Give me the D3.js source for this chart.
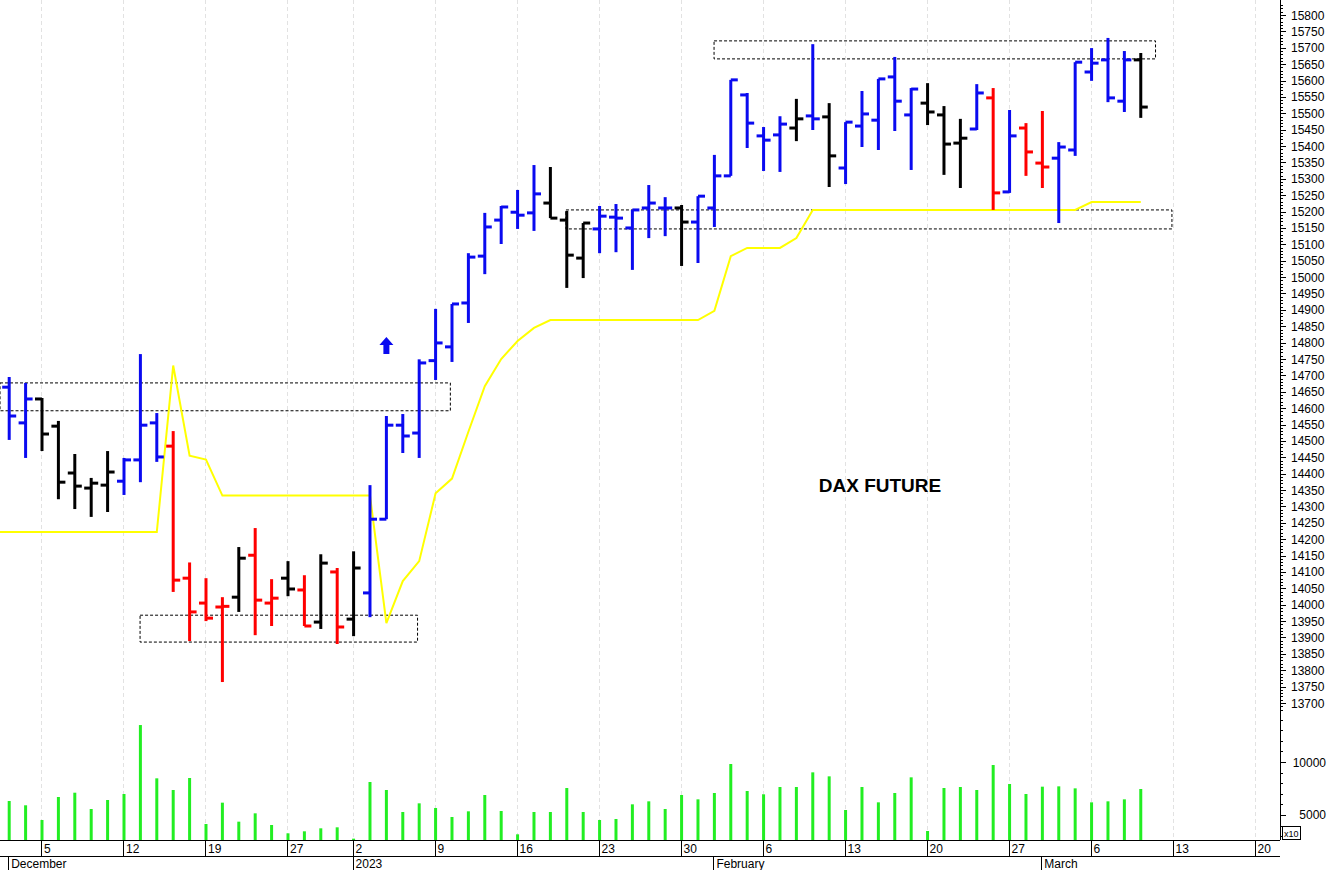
<!DOCTYPE html>
<html><head><meta charset="utf-8">
<script src="https://cdn.jsdelivr.net/npm/d3@7/dist/d3.min.js"></script>
<style>body{margin:0;background:#fff}svg{display:block}text{font-family:"Liberation Sans",Arial,sans-serif}</style>
</head><body><svg id="c" width="1328" height="870"></svg>
<script>
const dates=["Dec 1","Dec 2","Dec 5","Dec 6","Dec 7","Dec 8","Dec 9","Dec 12","Dec 13","Dec 14","Dec 15","Dec 16","Dec 19","Dec 20","Dec 21","Dec 22","Dec 23","Dec 27","Dec 28","Dec 29","Dec 30",
"Jan 2","Jan 3","Jan 4","Jan 5","Jan 6","Jan 9","Jan 10","Jan 11","Jan 12","Jan 13","Jan 16","Jan 17","Jan 18","Jan 19","Jan 20","Jan 23","Jan 24","Jan 25","Jan 26","Jan 27","Jan 30","Jan 31",
"Feb 1","Feb 2","Feb 3","Feb 6","Feb 7","Feb 8","Feb 9","Feb 10","Feb 13","Feb 14","Feb 15","Feb 16","Feb 17","Feb 20","Feb 21","Feb 22","Feb 23","Feb 24","Feb 27","Feb 28",
"Mar 1","Mar 2","Mar 3","Mar 6","Mar 7","Mar 8","Mar 9"];
const openV=[14664,14555,14628,14545,14402,14356,14365,14377,14442,14555,14484,14081,14005,13993,14023,14151,14005,14081,14045,13947,14100,
13956,14036,14261,14548,14524,14745,14787,14921,15064,15174,15198,15196,15226,15174,15058,15147,15183,15150,15211,15211,15211,15168,
15211,15309,15556,15431,15434,15455,15492,15489,15333,15461,15479,15611,15495,15531,15495,15409,15452,15547,15260,15455,
15348,15363,15388,15626,15663,15537,15663];
const highV=[14695,14677,14631,14561,14460,14387,14469,14448,14765,14585,14530,14129,14081,14023,14176,14234,14078,14133,14090,14154,14112,
14163,14365,14576,14582,14749,14903,14918,15073,15196,15217,15266,15342,15336,15202,15165,15217,15223,15205,15281,15244,15220,15247,
15373,15602,15562,15458,15491,15544,15711,15531,15473,15568,15605,15672,15577,15592,15522,15483,15589,15577,15510,15470,
15507,15412,15656,15699,15730,15690,15684];
const lowV=[14503,14448,14469,14322,14292,14268,14283,14335,14374,14436,14039,13889,13950,13764,13978,13907,13935,14026,13935,13926,13880,
13904,13962,14261,14463,14448,14686,14741,14860,15009,15101,15147,15141,15180,14967,14997,15073,15076,15022,15119,15125,15034,15043,
15153,15309,15394,15324,15321,15415,15449,15275,15284,15397,15388,15446,15327,15464,15312,15272,15449,15205,15257,15309,
15272,15165,15370,15599,15534,15504,15486];
const closeV=[14576,14628,14521,14374,14362,14371,14405,14442,14548,14451,14075,13978,13959,13995,14142,14014,14020,14048,13935,14127,13932,
14112,14261,14548,14515,14738,14799,14918,15061,15153,15214,15189,15254,15180,15067,15165,15186,15180,15205,15226,15211,15168,15247,
15309,15602,15470,15418,15467,15483,15483,15370,15473,15498,15605,15537,15574,15504,15406,15424,15562,15257,15431,15382,
15336,15397,15656,15653,15547,15663,15519];
const barColor="BBKKKKKBBBRRRRKRRKRKR"+"KBBBBBBBBBBBKKKBBBBBKB"+"BBBBBKBKBBBBBKKKBRBR"+"RBBBBBK";
const volumeV=[6320,5915,4528,6697,7103,5566,6415,6980,13487,8459,7358,8490,4151,6163,4371,5157,4057,3271,3460,3743,3837,
2767,8112,7358,5283,6100,5660,4811,5346,6886,5377,3176,5283,5283,7546,5283,4528,4623,6006,6289,5566,6886,6477,
7075,9809,7263,6949,7640,7640,9024,8647,5472,7640,6194,7075,8553,3491,7546,7640,7358,9715,7923,6980,
7672,7703,7514,6194,6289,6477,7452];
const stopV=[14222,14222,14222,14222,14222,14222,14222,14222,14222,14222,14730,14455,14443,14333,14333,14333,14333,14333,14333,14333,14333,
14333,14333,13944,14072,14133,14340,14385,14528,14667,14750,14805,14845,14869,14869,14869,14869,14869,14869,14869,14869,14869,14869,
14897,15064,15089,15089,15089,15119,15205,15205,15205,15205,15205,15205,15205,15205,15205,15205,15205,15205,15205,15205,
15205,15205,15205,15229,15229,15229,15229];
const dayTickIdx=[0,5,10,15,19,24,29,34,39,44,49,54,59,64,69,74];
const dayTickLabels=["5","12","19","27","2","9","16","23","30","6","13","20","27","6","13","20"];
const monthIdx=[-2,19,41,61];
const monthLabels=["December","2023","February","March"];
const zoneStart=[-2.56,5.98,31.95,40.98];
const zoneEnd=[24.9,22.9,68.9,67.9];
const zoneHigh=[14677,13968,15205,15721];
const zoneLow=[14592,13886,15147,15666];
const priceTicks=d3.range(13700,15801,50);
const volTicks=[5000,10000];
const signalIdx=[23], signalPrice=[14790];

const svg=d3.select("#c");
const W=1280;
const x=d3.scaleLinear().domain([-2.561,75.49]).range([0,W]);
const y=d3.scaleLinear().domain([13700,15800]).range([703,15]);
const yv=d3.scaleLinear().domain([2640,10000]).range([840,762]);
const col={B:"#0a0af0",R:"#ff0000",K:"#000000"};
const idx=i=>i-2;

svg.append("rect").attr("width",1328).attr("height",870).attr("fill","#fff");
svg.append("g").selectAll("line").data(dayTickIdx).join("line")
 .attr("x1",d=>Math.round(x(d))-0.5).attr("x2",d=>Math.round(x(d))-0.5).attr("y1",0).attr("y2",840)
 .attr("stroke","#e2e2e2").attr("stroke-dasharray","4,3");
svg.append("g").selectAll("rect").data(zoneStart).join("rect")
 .attr("x",(d,i)=>x(zoneStart[i])).attr("width",(d,i)=>x(zoneEnd[i])-x(zoneStart[i]))
 .attr("y",(d,i)=>y(zoneHigh[i])).attr("height",(d,i)=>y(zoneLow[i])-y(zoneHigh[i]))
 .attr("fill","none").attr("stroke","#000").attr("stroke-width",1).attr("stroke-dasharray","3,2");
svg.append("path").datum(stopV).attr("fill","none").attr("stroke","#ffff00").attr("stroke-width",2)
 .attr("d",d3.line().x((d,i)=>i===0?x(-2.561):x(idx(i))).y(d=>y(d)));
const g=svg.append("g");
dates.forEach((d,i)=>{
 const cx=x(idx(i)), c=col[barColor[i]];
 g.append("line").attr("x1",cx).attr("x2",cx).attr("y1",y(highV[i])).attr("y2",y(lowV[i])).attr("stroke",c).attr("stroke-width",3);
 g.append("line").attr("x1",cx-7).attr("x2",cx).attr("y1",y(openV[i])).attr("y2",y(openV[i])).attr("stroke",c).attr("stroke-width",3);
 g.append("line").attr("x1",cx).attr("x2",cx+7).attr("y1",y(closeV[i])).attr("y2",y(closeV[i])).attr("stroke",c).attr("stroke-width",3);
});
signalIdx.forEach((s,k)=>{
 const cx=x(idx(s)), cy=y(signalPrice[k]);
 svg.append("path").attr("d",`M${cx},${cy-9} L${cx+7},${cy-1} L${cx+3},${cy-1} L${cx+3},${cy+8} L${cx-3},${cy+8} L${cx-3},${cy-1} L${cx-7},${cy-1} Z`).attr("fill","#0a0af0");
});
svg.append("g").selectAll("line").data(volumeV).join("line")
 .attr("x1",(d,i)=>x(idx(i))).attr("x2",(d,i)=>x(idx(i))).attr("y1",840).attr("y2",d=>yv(d))
 .attr("stroke","#22ee22").attr("stroke-width",3);
svg.append("text").attr("x",880).attr("y",492).attr("text-anchor","middle").attr("font-size",19).attr("font-weight","bold").text("DAX FUTURE");
const ax=svg.append("g");
ax.append("line").attr("x1",W+0.5).attr("x2",W+0.5).attr("y1",0).attr("y2",840).attr("stroke","#000");
ax.selectAll("line.mn").data(d3.range(13680,15840,10)).join("line").attr("class","mn")
 .attr("x1",W).attr("x2",d=>W+(d%50===0?6:3)).attr("y1",d=>Math.round(y(d))+0.5).attr("y2",d=>Math.round(y(d))+0.5).attr("stroke","#000");
ax.selectAll("text.p").data(priceTicks).join("text").attr("class","p")
 .attr("x",W+11).attr("y",d=>y(d)+4.5).attr("font-size",12).text(d=>d);
ax.selectAll("line.vm").data(d3.range(3000,14001,1000)).join("line").attr("class","vm")
 .attr("x1",W).attr("x2",d=>W+(d%5000===0?6:3)).attr("y1",d=>Math.round(yv(d))+0.5).attr("y2",d=>Math.round(yv(d))+0.5).attr("stroke","#000");
ax.selectAll("text.v").data(volTicks).join("text").attr("class","v")
 .attr("x",1326).attr("text-anchor","end").attr("y",d=>yv(d)+4.5).attr("font-size",12).text(d=>d);
ax.append("rect").attr("x",W+2.5).attr("y",826.5).attr("width",18).attr("height",13).attr("fill","#fff").attr("stroke","#000");
ax.append("text").attr("x",W+4).attr("y",837).attr("font-size",9).text("x10");
const bx=svg.append("g");
bx.append("line").attr("x1",0).attr("x2",W).attr("y1",840.5).attr("y2",840.5).attr("stroke","#000");
bx.append("line").attr("x1",0).attr("x2",W).attr("y1",856.5).attr("y2",856.5).attr("stroke","#000");
bx.selectAll("line.t").data(dayTickIdx).join("line").attr("class","t")
 .attr("x1",d=>Math.round(x(d))-0.5).attr("x2",d=>Math.round(x(d))-0.5).attr("y1",840).attr("y2",856).attr("stroke","#000");
bx.selectAll("text.t").data(dayTickIdx).join("text").attr("class","t")
 .attr("x",d=>x(d)+2).attr("y",853).attr("font-size",12).text((d,i)=>dayTickLabels[i]);
bx.selectAll("line.m").data(monthIdx).join("line").attr("class","m")
 .attr("x1",d=>Math.round(x(d))-0.5).attr("x2",d=>Math.round(x(d))-0.5).attr("y1",856).attr("y2",870).attr("stroke","#000");
bx.selectAll("text.m").data(monthIdx).join("text").attr("class","m")
 .attr("x",d=>x(d)+2).attr("y",868).attr("font-size",12).text((d,i)=>monthLabels[i]);
</script></body></html>
